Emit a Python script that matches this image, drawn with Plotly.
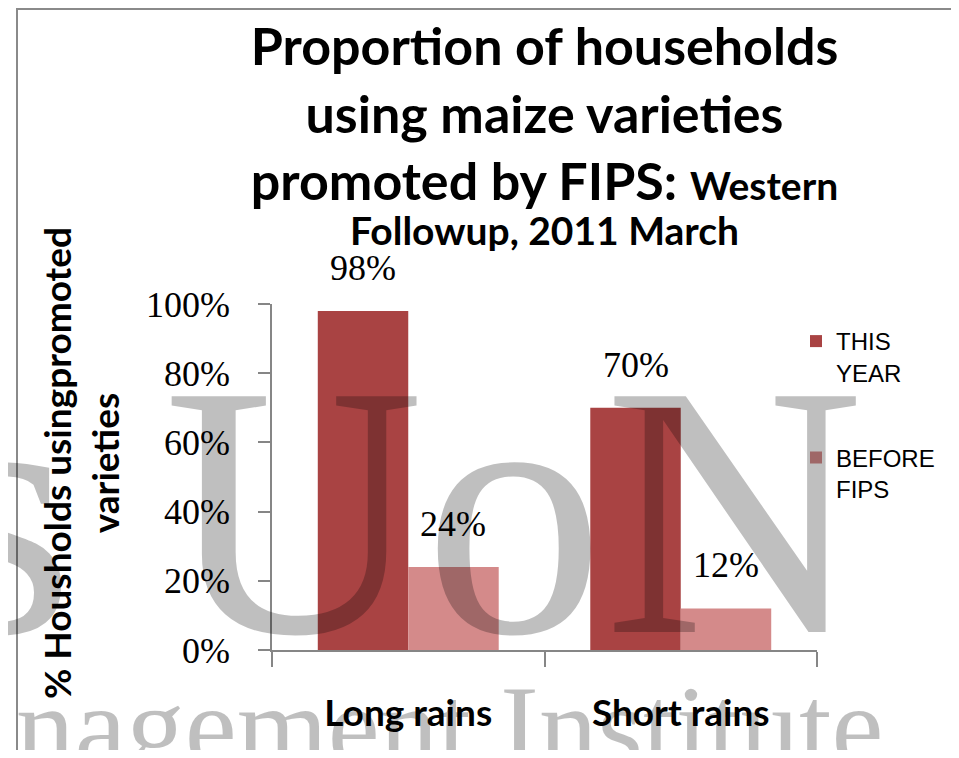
import plotly.graph_objects as go

# ---- data ----
categories = ["Long rains", "Short rains"]
series_names = ["THIS<br>YEAR", "BEFORE<br>FIPS"]
this_year = [0.98, 0.70]
before_fips = [0.24, 0.12]
y_ticks = [0, 0.2, 0.4, 0.6, 0.8, 1.0]

title_lines = ["Proportion of households", "using maize varieties", "promoted by FIPS: "]
title_small = ["Western", "Followup, 2011 March"]
y_title = ["% Housholds usingpromoted", "varieties"]
watermark = ["s UoN", "anagement Institute"]

# ---- layout constants (page has an 8px body margin) ----
OFF = 8
W, H = 951, 742
ML, MT = 264, 296
PW, PH = 545, 346
MR = W - ML - PW
MB = H - MT - PH
BARGAP = 0.336
colors = ["#A94343", "#D48A8A"]
AXIS_COL = "#868686"


def px(x):
    """screen x -> paper x"""
    return (x - OFF - ML) / PW


def py(y):
    """screen y -> paper y"""
    return (H - MB - (y - OFF)) / PH


fig = go.Figure()
for name, vals, col, grp in zip(series_names, [this_year, before_fips], colors, ["a", "b"]):
    fig.add_trace(go.Bar(x=categories, y=vals, name=name, marker_color=col,
                         marker_line_width=0, legendgroup=grp))

annotations = []
# data labels
bar_w = PW / len(categories) * (1 - BARGAP) / 2
for i, vals in enumerate([this_year, before_fips]):
    for c, v in zip(categories, vals):
        annotations.append(dict(x=c, y=v, xref="x", yref="y", text=f"{v:.0%}",
                                showarrow=False, yanchor="bottom", xanchor="center",
                                xshift=(i - 0.5) * bar_w, yshift=21,
                                font=dict(family="Liberation Serif", size=36, color="black")))

# title line 4
annotations.append(dict(x=0.5, y=py(230), xref="paper", yref="paper", showarrow=False,
                        text=title_small[1], xanchor="center", yanchor="middle",
                        font=dict(family="Lato", size=39, color="black", weight="bold")))
# y-axis title
annotations.append(dict(x=px(80), y=py(463), xref="paper", yref="paper", showarrow=False,
                        text="<br>".join(y_title), textangle=-90,
                        xanchor="center", yanchor="middle",
                        font=dict(family="Lato", size=37, color="black", weight="bold")))
# watermark
annotations.append(dict(x=px(399), y=py(712), xref="paper", yref="paper", showarrow=False,
                        text=watermark[0], xanchor="center", yanchor="bottom",
                        font=dict(family="Liberation Serif", size=360, color="rgba(0,0,0,0.25)")))
annotations.append(dict(x=px(423), y=py(793), xref="paper", yref="paper", showarrow=False,
                        text=watermark[1], xanchor="center", yanchor="bottom",
                        font=dict(family="Liberation Serif", size=117, color="rgba(0,0,0,0.25)")))

title_text = (title_lines[0] + "<br>" + title_lines[1] + "<br>" + title_lines[2]
              + f"<span style='font-size:39px'>{title_small[0]}</span>")

fig.update_layout(
    width=W, height=H,
    margin=dict(l=ML, r=MR, t=MT, b=MB),
    paper_bgcolor="white", plot_bgcolor="white",
    barmode="group", bargap=BARGAP, bargroupgap=0,
    title=dict(text=title_text, x=0.5, xref="paper", xanchor="center",
               y=1 - 57 / H, yref="container", yanchor="top",
               font=dict(family="Lato", size=52, color="black", weight="bold")),
    xaxis=dict(type="category", showline=True, linecolor=AXIS_COL, linewidth=1.5,
               ticks="outside", tickson="boundaries", ticklen=15, tickcolor=AXIS_COL,
               tickwidth=1.5, showgrid=False, ticklabelstandoff=30,
               tickfont=dict(family="Lato", size=37, color="black", weight="bold")),
    yaxis=dict(range=[0, 1], tickvals=y_ticks, tickformat=".0%", showline=True,
               linecolor=AXIS_COL, linewidth=1.5, ticks="outside", ticklen=12,
               tickcolor=AXIS_COL, tickwidth=1.5, showgrid=False, zeroline=False,
               ticklabelstandoff=21,
               tickfont=dict(family="Liberation Serif", size=36, color="black")),
    legend=dict(x=px(796), y=py(319), xanchor="left", yanchor="top",
                traceorder="grouped", tracegroupgap=51, valign="top",
                bgcolor="rgba(0,0,0,0)",
                font=dict(family="Liberation Sans", size=24, color="black")),
    annotations=annotations,
    shapes=[dict(type="rect", xref="paper", yref="paper", layer="above",
                 x0=px(17), x1=px(955), y0=py(757), y1=py(OFF + 1),
                 line=dict(color="#8A8A8A", width=2))],
)

fig.write_html("out.html")
